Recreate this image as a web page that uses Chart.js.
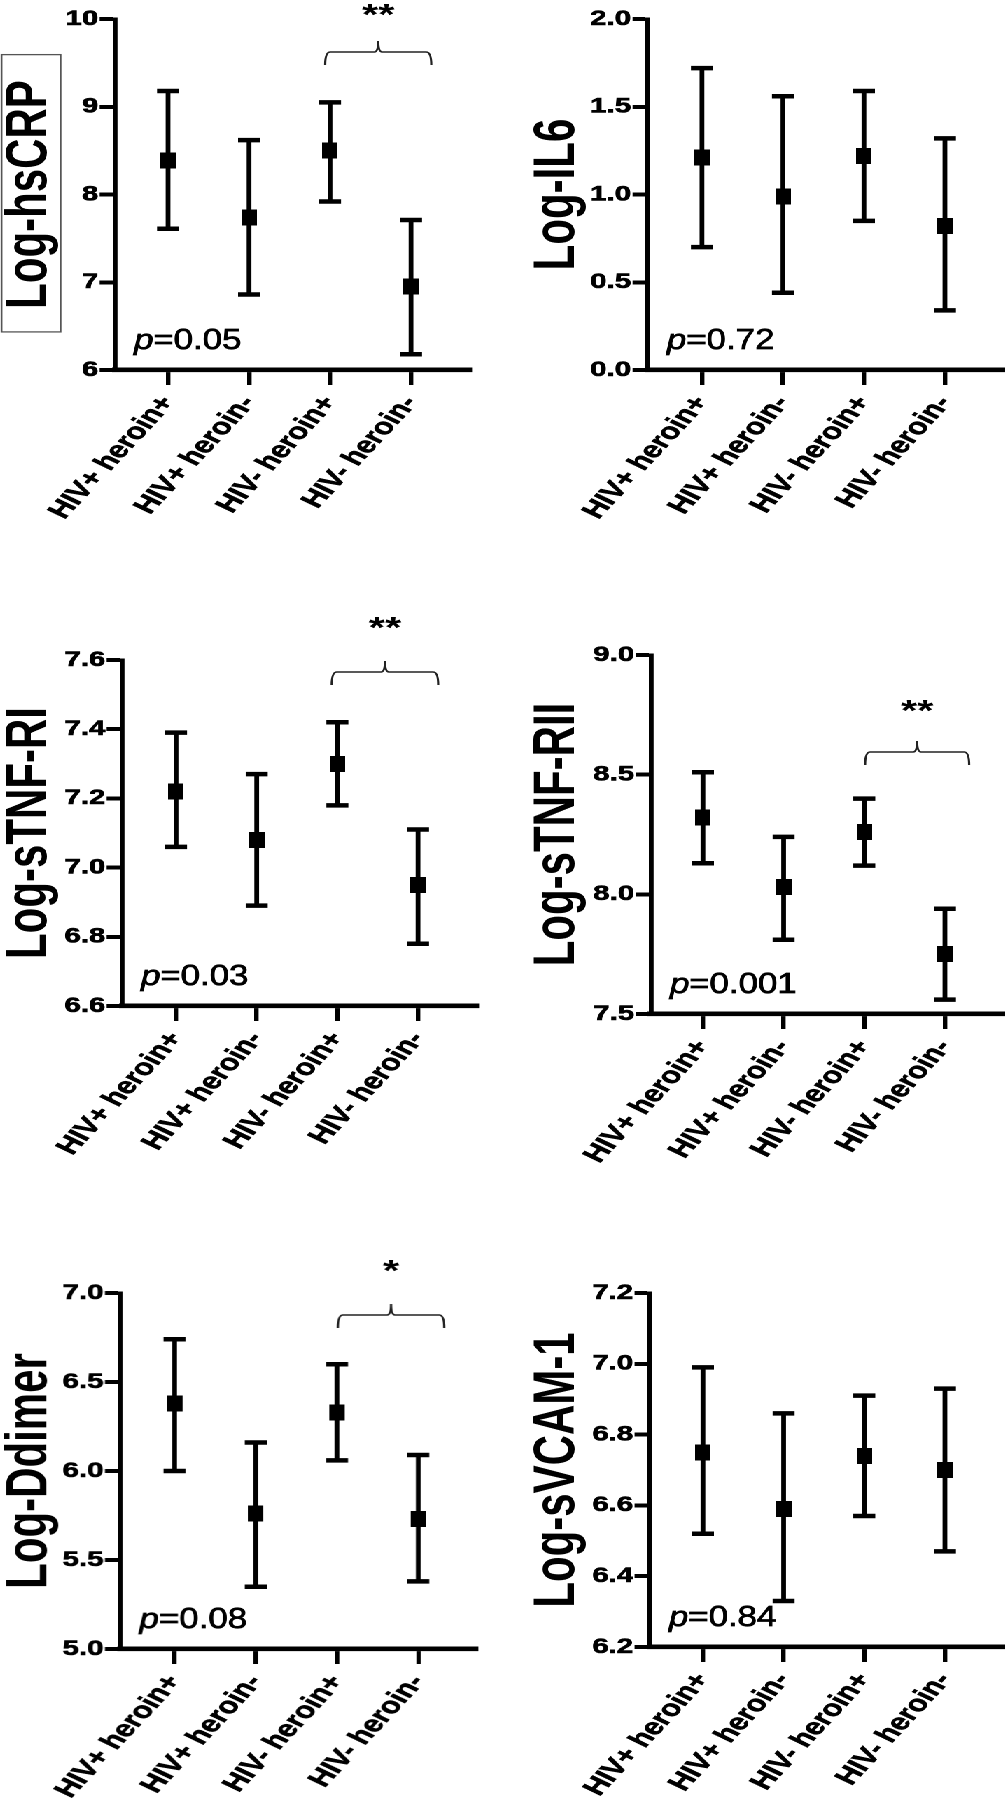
<!DOCTYPE html>
<html><head><meta charset="utf-8">
<script src="https://cdn.jsdelivr.net/npm/chart.js@4.4.1/dist/chart.umd.min.js"></script>
<style>
html,body{margin:0;padding:0;background:#fff;}
body{width:1005px;height:1800px;overflow:hidden;position:relative;}
#stage{position:absolute;left:0;top:0;width:730px;height:1800px;transform:scaleX(1.4);transform-origin:0 0;}
#stage canvas{position:absolute;}
</style></head><body><div id="stage"></div>
<script>
// ---------------- DATA ----------------
const categories = ["HIV+ heroin+", "HIV+ heroin-", "HIV- heroin+", "HIV- heroin-"];

const hsCRP_mean  = [8.39, 7.74, 8.50, 6.95];
const hsCRP_upper = [9.18, 8.62, 9.05, 7.71];
const hsCRP_lower = [7.61, 6.86, 7.92, 6.18];
const hsCRP_ticks = [6, 7, 8, 9, 10];
const hsCRP_tickLabels = ["6", "7", "8", "9", "10"];

const IL6_mean  = [1.21, 0.99, 1.22, 0.82];
const IL6_upper = [1.72, 1.56, 1.59, 1.32];
const IL6_lower = [0.70, 0.44, 0.85, 0.34];
const IL6_ticks = [0, 0.5, 1.0, 1.5, 2.0];
const IL6_tickLabels = ["0.0", "0.5", "1.0", "1.5", "2.0"];

const TNFRI_mean  = [7.22, 7.08, 7.30, 6.95];
const TNFRI_upper = [7.39, 7.27, 7.42, 7.11];
const TNFRI_lower = [7.06, 6.89, 7.18, 6.78];
const TNFRI_ticks = [6.6, 6.8, 7.0, 7.2, 7.4, 7.6];
const TNFRI_tickLabels = ["6.6", "6.8", "7.0", "7.2", "7.4", "7.6"];

const TNFRII_mean  = [8.32, 8.03, 8.26, 7.75];
const TNFRII_upper = [8.51, 8.24, 8.40, 7.94];
const TNFRII_lower = [8.13, 7.81, 8.12, 7.56];
const TNFRII_ticks = [7.5, 8.0, 8.5, 9.0];
const TNFRII_tickLabels = ["7.5", "8.0", "8.5", "9.0"];

const Ddimer_mean  = [6.38, 5.76, 6.33, 5.73];
const Ddimer_upper = [6.74, 6.16, 6.60, 6.09];
const Ddimer_lower = [6.00, 5.35, 6.06, 5.38];
const Ddimer_ticks = [5.0, 5.5, 6.0, 6.5, 7.0];
const Ddimer_tickLabels = ["5.0", "5.5", "6.0", "6.5", "7.0"];

const VCAM_mean  = [6.75, 6.59, 6.74, 6.70];
const VCAM_upper = [6.99, 6.86, 6.91, 6.93];
const VCAM_lower = [6.52, 6.33, 6.57, 6.47];
const VCAM_ticks = [6.2, 6.4, 6.6, 6.8, 7.0, 7.2];
const VCAM_tickLabels = ["6.2", "6.4", "6.6", "6.8", "7.0", "7.2"];

const titles = ["Log-hsCRP", "Log-IL6", "Log-sTNF-RI", "Log-sTNF-RII", "Log-Ddimer", "Log-sVCAM-1"];
const pValues = ["0.05", "0.72", "0.03", "0.001", "0.08", "0.84"];
const sigMarks = ["**", "", "**", "**", "*", ""];

// ---------------- LAYOUT (full-page pixels) ----------------
const S = 1.4; // horizontal stretch of the figure
const FAMILY = 'Arial, "Liberation Sans", Helvetica, sans-serif';
const PAD_R = 14; // extra canvas width eaten by Chart.js right padding

const panels = [
  {mean: hsCRP_mean, upper: hsCRP_upper, lower: hsCRP_lower, ticks: hsCRP_ticks, tickLabels: hsCRP_tickLabels, idx: 0, box: true,
   lay: {left: 0, top: 0, axisEnd: 469, height: 560, axisX: 115, chartTop: 19, chartBottom: 370, titleX: 30, c0: 168, c3: 411},
   br: {x0: 1.94, x1: 3.25, dy: 33, starDy: -9}},
  {mean: IL6_mean, upper: IL6_upper, lower: IL6_lower, ticks: IL6_ticks, tickLabels: IL6_tickLabels, idx: 1,
   lay: {left: 490, top: 0, axisEnd: 1003, height: 560, axisX: 648, chartTop: 19, chartBottom: 370, titleX: 558, c0: 702, c3: 945}},
  {mean: TNFRI_mean, upper: TNFRI_upper, lower: TNFRI_lower, ticks: TNFRI_ticks, tickLabels: TNFRI_tickLabels, idx: 2,
   lay: {left: 0, top: 590, axisEnd: 476, height: 590, axisX: 122, chartTop: 660, chartBottom: 1006, titleX: 30, c0: 176, c3: 418},
   br: {x0: 1.93, x1: 3.25, dy: 12, starDy: -37}},
  {mean: TNFRII_mean, upper: TNFRII_upper, lower: TNFRII_lower, ticks: TNFRII_ticks, tickLabels: TNFRII_tickLabels, idx: 3,
   lay: {left: 490, top: 590, axisEnd: 1003, height: 590, axisX: 651, chartTop: 655, chartBottom: 1014, titleX: 558, c0: 703, c3: 945},
   br: {x0: 2.01, x1: 3.30, dy: 97, starDy: 51}},
  {mean: Ddimer_mean, upper: Ddimer_upper, lower: Ddimer_lower, ticks: Ddimer_ticks, tickLabels: Ddimer_tickLabels, idx: 4,
   lay: {left: 0, top: 1220, axisEnd: 474, height: 580, axisX: 120, chartTop: 1293, chartBottom: 1649, titleX: 30, c0: 174, c3: 417},
   br: {x0: 2.01, x1: 3.32, dy: 22, starDy: -27}},
  {mean: VCAM_mean, upper: VCAM_upper, lower: VCAM_lower, ticks: VCAM_ticks, tickLabels: VCAM_tickLabels, idx: 5,
   lay: {left: 490, top: 1220, axisEnd: 1003, height: 580, axisX: 650, chartTop: 1293, chartBottom: 1647, titleX: 558, c0: 703, c3: 945}}
];

// square marker, pre-compressed so it looks square after the stretch
const MARK = 16;
const marker = document.createElement('canvas');
marker.width = Math.round(MARK / S); marker.height = MARK;
const mctx = marker.getContext('2d');
mctx.fillStyle = '#000'; mctx.fillRect(0, 0, marker.width, marker.height);

function makeExtras(pn) {
  return {
    id: 'extras' + pn.idx,
    beforeDatasetsDraw(chart) {
      const {ctx, scales: {x, y}} = chart;
      ctx.save();
      ctx.strokeStyle = '#000';
      const capHalf = 11 / S;
      for (let i = 0; i < pn.mean.length; i++) {
        const px = x.getPixelForValue(i);
        const yt = y.getPixelForValue(pn.upper[i]);
        const yb = y.getPixelForValue(pn.lower[i]);
        ctx.lineWidth = 3.4;
        ctx.beginPath(); ctx.moveTo(px, yt); ctx.lineTo(px, yb); ctx.stroke();
        ctx.lineWidth = 4.5;
        ctx.beginPath();
        ctx.moveTo(px - capHalf, yt); ctx.lineTo(px + capHalf, yt);
        ctx.moveTo(px - capHalf, yb); ctx.lineTo(px + capHalf, yb);
        ctx.stroke();
      }
      ctx.restore();
    },
    afterDraw(chart) {
      const {ctx, chartArea, scales: {x, y}} = chart;
      ctx.save();
      ctx.fillStyle = '#000';
      ctx.strokeStyle = '#000';
      ctx.lineWidth = 0.7;
      const fs = 29;
      ctx.translate(chartArea.left + 19 / S, chartArea.bottom - 21);
      ctx.scale(1.2 / S, 1);
      ctx.textAlign = 'left'; ctx.textBaseline = 'alphabetic';
      ctx.font = 'italic ' + fs + 'px ' + FAMILY;
      ctx.fillText('p', 0, 0); ctx.strokeText('p', 0, 0);
      const w = ctx.measureText('p').width;
      ctx.font = fs + 'px ' + FAMILY;
      const rest = '=' + pValues[pn.idx];
      ctx.fillText(rest, w, 0); ctx.strokeText(rest, w, 0);
      ctx.restore();

      if (pn.br) {
        const x0 = x.getPixelForValue(pn.br.x0), x1 = x.getPixelForValue(pn.br.x1);
        const xm = (x0 + x1) / 2;
        const yb = chartArea.top + pn.br.dy;
        const drop = 13, cusp = 11, r = 5 / S, r2 = 4 / S;
        ctx.save();
        ctx.strokeStyle = '#222'; ctx.lineWidth = 1.6;
        ctx.beginPath();
        ctx.moveTo(x0, yb + drop);
        ctx.quadraticCurveTo(x0, yb, x0 + r, yb);
        ctx.lineTo(xm - r2, yb);
        ctx.quadraticCurveTo(xm, yb, xm, yb - cusp);
        ctx.quadraticCurveTo(xm, yb, xm + r2, yb);
        ctx.lineTo(x1 - r, yb);
        ctx.quadraticCurveTo(x1, yb, x1, yb + drop);
        ctx.stroke();
        ctx.fillStyle = '#000';
        ctx.font = 'bold 30px ' + FAMILY;
        ctx.textAlign = 'center'; ctx.textBaseline = 'middle';
        ctx.fillText(sigMarks[pn.idx], xm, chartArea.top + pn.br.starDy + 6);
        ctx.restore();
      }

      if (pn.box) {
        const h = chartArea.bottom - chartArea.top;
        ctx.save();
        ctx.strokeStyle = '#555'; ctx.lineWidth = 1.3;
        ctx.strokeRect(1.5 / S, chartArea.top + 0.1015 * h, 59 / S, 0.79 * h);
        ctx.restore();
      }
    }
  };
}

const stage = document.getElementById('stage');
panels.forEach(pn => {
  const L = pn.lay;
  const cv = document.createElement('canvas');
  const cw = (L.axisEnd + PAD_R - L.left) / S, ch = L.height;
  cv.width = cw; cv.height = ch;
  cv.style.left = (L.left / S) + 'px';
  cv.style.top = L.top + 'px';
  cv.style.width = cw + 'px'; cv.style.height = ch + 'px';
  stage.appendChild(cv);

  const yWidth = (L.axisX - L.left) / S;
  const xHeight = L.height - (L.chartBottom - L.top);
  const titleLH = 42;
  const titlePad = (L.titleX - L.left) / S - titleLH / 2;

  const chart = new Chart(cv, {
    type: 'scatter',
    data: {
      datasets: [{
        data: pn.mean.map((v, i) => ({x: i, y: v})),
        pointStyle: marker,
        pointRadius: 8,
        pointHoverRadius: 8,
        showLine: false
      }]
    },
    options: {
      responsive: false,
      animation: false,
      devicePixelRatio: 2,
      layout: {padding: {top: L.chartTop - L.top, left: 0, right: 0, bottom: 0}},
      plugins: {legend: {display: false}, tooltip: {enabled: false}},
      events: [],
      scales: {
        x: {
          type: 'linear', min: -0.66, max: 3.71,
          afterBuildTicks: s => { s.ticks = categories.map((c, i) => ({value: i})); },
          afterFit: s => { s.height = xHeight; },
          ticks: {
            callback: (v, i) => categories[i],
            autoSkip: false, minRotation: 56, maxRotation: 56,
            color: '#000', padding: 6,
            textStrokeColor: '#000', textStrokeWidth: 0.6,
            font: {family: FAMILY, size: 23, weight: 'bold'}
          },
          grid: {display: true, drawOnChartArea: false, drawTicks: true, tickLength: 15, tickWidth: 3.2, tickColor: '#000', lineWidth: 3.2, color: '#000'},
          border: {display: true, width: 4.6, color: '#000'}
        },
        y: {
          type: 'linear', min: pn.ticks[0], max: pn.ticks[pn.ticks.length - 1],
          afterBuildTicks: s => { s.ticks = pn.ticks.map(v => ({value: v})); },
          afterFit: s => { s.width = yWidth; },
          ticks: {
            callback: (v, i) => pn.tickLabels[i],
            color: '#000', padding: 1,
            textStrokeColor: '#000', textStrokeWidth: 0.6,
            font: {family: FAMILY, size: 21, weight: 'bold'}
          },
          grid: {display: true, drawOnChartArea: false, drawTicks: true, tickLength: 11, tickWidth: 4, tickColor: '#000', lineWidth: 4, color: '#000'},
          border: {display: true, width: 3.4, color: '#000'},
          title: {
            display: true, text: titles[pn.idx], color: '#000',
            font: {family: FAMILY, size: 42, weight: 'bold', lineHeight: 1},
            padding: {top: titlePad, bottom: 0}
          }
        }
      }
    },
    plugins: [makeExtras(pn)]
  });

  // fit the category range to the measured chart area so the groups land where the reference has them
  for (let k = 0; k < 2; k++) {
    const ca = chart.chartArea;
    const A = L.left + ca.left * S, B = L.left + ca.right * S;
    const unit = (L.c3 - L.c0) / 3;
    chart.options.scales.x.min = -(L.c0 - A) / unit;
    chart.options.scales.x.max = 3 + (B - L.c3) / unit;
    chart.update('none');
  }
});
</script>
</body></html>
